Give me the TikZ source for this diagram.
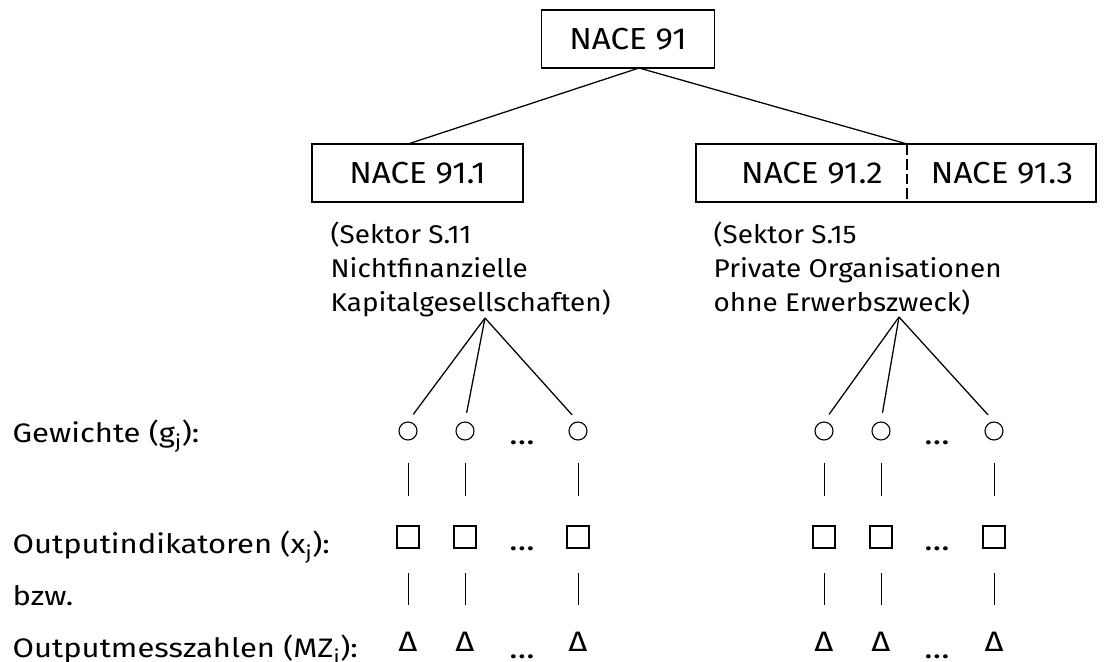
\documentclass[tikz,border=0pt]{standalone}
\usepackage{fontspec}
\setmainfont{Fira Sans}
\newfontfamily\nacefont[FakeStretch=1.09]{Fira Sans}
\newfontfamily\sekfont[FakeStretch=1.09]{Fira Sans}
\newfontfamily\rowfont[FakeStretch=1.16]{Fira Sans}
\begin{document}
\begin{tikzpicture}[x=0.025cm, y=-0.025cm, line width=0.9pt,
  box/.style={draw, minimum height=1.45cm, inner sep=0pt, font=\nacefont\fontsize{21.6}{26}\selectfont},
  boxtext/.style={inner sep=0pt, font=\nacefont\fontsize{21.6}{26}\selectfont},
  lbl/.style={inner sep=0pt, font=\sekfont\fontsize{18.2}{24.2}\selectfont},
  row/.style={inner sep=0pt, anchor=base west, font=\rowfont\fontsize{19}{22}\selectfont},
  wgt/.style={draw, circle, minimum size=0.45cm, inner sep=0pt, line width=0.8pt},
  ind/.style={draw, rectangle, minimum size=0.55cm, inner sep=0pt, line width=1.5pt},
  mz/.style={inner sep=0pt, anchor=base, font=\rowfont\fontsize{20}{22}\selectfont},
  dots/.style={inner sep=0pt, anchor=base, font=\rowfont\fontsize{21}{22}\selectfont},
  bar/.style={line width=0.7pt}]
\useasboundingbox (0,0) rectangle (1106,662);

% Gliederung NACE 91
\node[box, minimum width=4.325cm] (nace) at (628,39) {NACE 91};
\node[box, minimum width=5.275cm] (nace1) at (417.5,173) {NACE 91.1};
\node[box, minimum width=10cm] (nace23) at (896,173) {};
\node[boxtext] (nace2) at (812,173) {NACE 91.2};
\node[boxtext] (nace3) at (1002,173) {NACE 91.3};
\coordinate (divtop) at (907,144);
\coordinate (divbot) at (907,202);
\draw[dash pattern=on 0.27cm off 0.1cm] (divtop) -- (divbot);

\coordinate (fork0) at (639,68);
\coordinate (fork1) at (408,144);
\draw (fork0) -- (fork1);
\draw (fork0) -- (divtop);

% Sektoren
\node[lbl, align=left, anchor=north west] (sek11) at (330,221) {(Sektor S.11\\Nichtfinanzielle\\Kapitalgesellschaften)};
\node[lbl, align=left, anchor=north west] (sek15) at (713,221) {(Sektor S.15\\Private Organisationen\\ohne Erwerbszweck)};
\coordinate (fanL) at (485,318);
\coordinate (fanR) at (899,317);

% Zeilen
\node[row] (gew) at (12,442) {Gewichte (g\textsubscript{j}):};
\node[row] (ind) at (12,553) {Outputindikatoren (x\textsubscript{j}):};
\node[row] (bzw) at (12,605) {bzw.};
\node[row] (mzl) at (12,657) {Outputmesszahlen (MZ\textsubscript{j}):};

\foreach \n/\x/\f in {1/408/fanL, 2/465/fanL, 3/578/fanL, 4/824/fanR, 5/881/fanR, 6/994/fanR}
{
    \node[wgt] (g\n) at (\x,431) {};
    \node[ind] (x\n) at (\x,537) {};
    \node[mz] (m\n) at (\x,651) {Δ};
    \draw[shorten >=0.22cm] (\f) -- (g\n.north);
    \draw[bar, shorten <=0.55cm, shorten >=0.72cm] (g\n) -- (x\n);
    \draw[bar, shorten <=0.6cm, shorten >=0.64cm] (x\n) -- (m\n);
}
\foreach \k/\x in {l/522, r/937}
{
    \node[dots] (dg\k) at (\x,444) {…};
    \node[dots] (dx\k) at (\x,550) {…};
    \node[dots] (dm\k) at (\x,658) {…};
}
\end{tikzpicture}
\end{document}
